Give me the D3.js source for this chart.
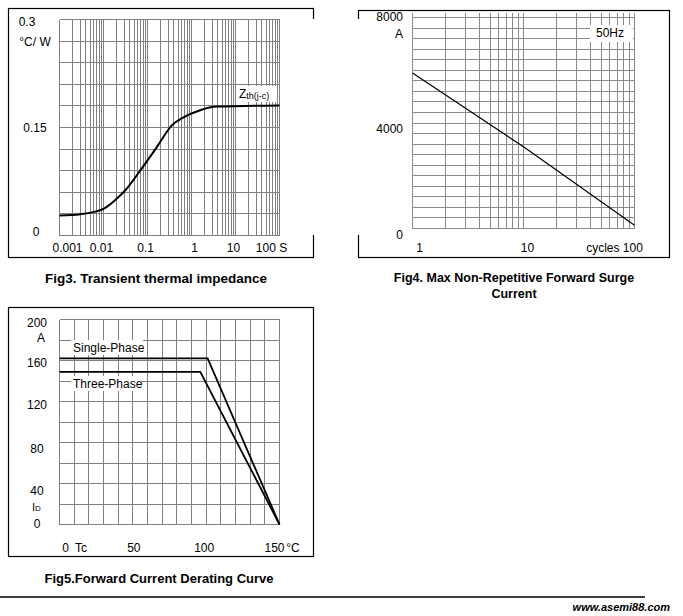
<!DOCTYPE html>
<html lang="en">
<head>
<meta charset="UTF-8">
<title>Datasheet curves</title>
<script src="https://d3js.org/d3.v7.min.js"></script>
<style>
  body { margin: 0; background: #fff; }
  svg text { font-family: "Liberation Sans", Arial, sans-serif; fill: #000; }
</style>
</head>
<body>
<svg id="page" width="683" height="616"></svg>
<script>
    // Fig3 - transient thermal impedance Zth(j-c)
    const zthTime = [0.001, 0.003, 0.01, 0.024, 0.031, 0.068, 0.163, 0.357, 0.658, 1.57, 3.77, 100];
    const zthValue = [0.0278, 0.0296, 0.037, 0.0556, 0.0625, 0.090, 0.1227, 0.153, 0.164, 0.174, 0.179, 0.1806];
    const zthXTicks = [0.001, 0.01, 0.1, 1, 10, 100];
    const zthXLabels = ["0.001", "0.01", "0.1", "1", "10", "100 S"];
    const zthYTicks = [0.3, 0.15, 0];

    // Fig4 - max non-repetitive forward surge current (50Hz)
    const surgeCycles = [1, 10, 100];
    const surgeCurrent = [5900, 3100, 120];
    const surgeXTicks = [1, 10, 100];
    const surgeXLabels = ["1", "10", "cycles 100"];
    const surgeYTicks = [8000, 4000, 0];

    // Fig5 - forward current derating
    const tcSingle = [0, 101, 150];
    const idSingle = [162, 162, 0];
    const tcThree = [0, 96, 150];
    const idThree = [149, 149, 0];
    const tcTicks = [0, 50, 100, 150];
    const tcLabels = ["0", "50", "100", "150"];
    const idTicks = [200, 160, 120, 80, 40, 0];

    var svg = d3.select("#page");
    var gridColor = "#808080";

    function frame(x0, y0, x1, y1) {
        svg.append("rect")
            .attr("x", x0 + 0.5).attr("y", y0 + 0.5)
            .attr("width", x1 - x0).attr("height", y1 - y0)
            .attr("fill", "none").attr("stroke", "#000").attr("stroke-width", 1.2);
    }

    function grid(x, y, xs, ys, color, yTop) {
        var g = svg.append("g").attr("stroke", color).attr("stroke-width", 1)
            .attr("shape-rendering", "crispEdges");
        var yr = y.range();
        xs.forEach(function (v) {
            g.append("line").attr("x1", x(v)).attr("x2", x(v))
                .attr("y1", yTop === undefined ? yr[1] : yTop).attr("y2", yr[0]);
        });
        var xr = x.range();
        ys.forEach(function (v) {
            g.append("line").attr("x1", xr[0]).attr("x2", xr[1])
                .attr("y1", y(v)).attr("y2", y(v));
        });
    }

    function label(txt, x, y, anchor, size, weight) {
        return svg.append("text").attr("x", x).attr("y", y)
            .attr("dy", "0.35em")
            .attr("text-anchor", anchor || "middle")
            .style("font-size", (size || 12) + "px")
            .style("font-weight", weight || "normal")
            .text(txt);
    }

    // ---------- Fig3 ----------
    var x3 = d3.scaleLog().domain([0.001, 100]).range([59.5, 279.5]);
    var y3 = d3.scaleLinear().domain([0, 0.3]).range([235.5, 19.5]);
    frame(8, 8, 313, 257);
    grid(x3, y3, x3.ticks(), d3.range(0, 11).map(function (i) { return i * 0.03; }), gridColor);

    var zthData = zthTime.map(function (t, i) { return {t: t, v: zthValue[i]}; });
    svg.append("path").datum(zthData)
        .attr("fill", "none").attr("stroke", "#000").attr("stroke-width", 2)
        .attr("d", d3.line().x(function (d) { return x3(d.t); })
            .y(function (d) { return y3(d.v); }).curve(d3.curveMonotoneX));

    var dx3 = [8, -2, -2, 3, -2, -8];
    zthXTicks.forEach(function (v, i) {
        label(zthXLabels[i], x3(v) + dx3[i], 248);
    });
    var yl3 = [[27, 22], [35, 128], [36, 232]];
    zthYTicks.forEach(function (v, i) {
        label(d3.format("")(v), yl3[i][0], yl3[i][1]);
    });
    label("°C/ W", 35, 42);

    svg.append("rect").attr("x", 236).attr("y", 86).attr("width", 40).attr("height", 16).attr("fill", "#fff");
    var zt = svg.append("text").attr("x", 239).attr("y", 98).style("font-size", "12px");
    zt.append("tspan").text("Z");
    zt.append("tspan").style("font-size", "9px").attr("dy", 1).text("th(j-c)");

    // ---------- Fig4 ----------
    var x4 = d3.scaleLog().domain([1, 100]).range([412.5, 634.5]);
    var y4 = d3.scaleLinear().domain([0, 8000]).range([228.5, 17.5]);
    frame(358, 10, 669, 257);
    grid(x4, y4, x4.ticks(), d3.range(0, 21).map(function (i) { return i * 400; }), "#8a8a8a", 13);

    var surgeData = surgeCycles.map(function (c, i) { return {c: c, a: surgeCurrent[i]}; });
    svg.append("path").datum(surgeData)
        .attr("fill", "none").attr("stroke", "#000").attr("stroke-width", 1.2)
        .attr("d", d3.line().x(function (d) { return x4(d.c); }).y(function (d) { return y4(d.a); }));

    var dx4 = [7, 4, -20];
    surgeXTicks.forEach(function (v, i) {
        label(surgeXLabels[i], x4(v) + dx4[i], 248);
    });
    var yl4 = [17, 129, 235];
    surgeYTicks.forEach(function (v, i) {
        label(String(v), 403, yl4[i], "end");
    });
    label("A", 399, 34);

    svg.append("rect").attr("x", 590).attr("y", 25).attr("width", 43).attr("height", 17).attr("fill", "#fff");
    label("50Hz", 610, 33);

    // white patch between Fig3 and Fig4 frames
    svg.append("rect").attr("x", 296).attr("y", 19).attr("width", 66).attr("height", 216).attr("fill", "#fff");

    // ---------- Fig5 ----------
    var x5 = d3.scaleLinear().domain([0, 150]).range([59.5, 279.5]);
    var y5 = d3.scaleLinear().domain([0, 200]).range([524.5, 319.5]);
    frame(8, 307, 313, 556);
    grid(x5, y5, d3.range(0, 151, 10), d3.range(0, 201, 20), gridColor);

    [[tcSingle, idSingle], [tcThree, idThree]].forEach(function (s) {
        var pts = s[0].map(function (t, i) { return [x5(t), y5(s[1][i])]; });
        svg.append("path").datum(pts)
            .attr("fill", "none").attr("stroke", "#000").attr("stroke-width", 1.8)
            .attr("d", d3.line());
    });

    svg.append("rect").attr("x", 71).attr("y", 340).attr("width", 72).attr("height", 15).attr("fill", "#fff");
    label("Single-Phase", 73, 348, "start");
    svg.append("rect").attr("x", 71).attr("y", 376).attr("width", 70).attr("height", 15).attr("fill", "#fff");
    label("Three-Phase", 73, 384, "start");

    var dx5 = [6, 1, -2, -5];
    tcTicks.forEach(function (v, i) {
        label(tcLabels[i], x5(v) + dx5[i], 548);
    });
    label("Tc", 81, 548);
    label("°C", 293, 548);

    var yl5 = [323, 363, 405, 449, 491, 524];
    idTicks.forEach(function (v, i) {
        label(String(v), 37, yl5[i]);
    });
    label("A", 41, 338);
    var idl = svg.append("text").attr("x", 32).attr("y", 511).style("font-size", "11px");
    idl.append("tspan").text("I");
    idl.append("tspan").style("font-size", "8px").text("D");

    // ---------- captions ----------
    label("Fig3. Transient thermal impedance", 156, 278, "middle", 13.5, "bold");
    label("Fig4. Max Non-Repetitive Forward Surge", 514, 278, "middle", 12.5, "bold");
    label("Current", 514, 294, "middle", 12.5, "bold");
    label("Fig5.Forward Current Derating Curve", 159, 578, "middle", 13, "bold");

    svg.append("line").attr("x1", 0).attr("x2", 645).attr("y1", 597).attr("y2", 597)
        .attr("stroke", "#000").attr("stroke-width", 1.5);
    label("www.asemi88.com", 670, 607, "end", 11, "bold").style("font-style", "italic");
</script>
</body>
</html>
